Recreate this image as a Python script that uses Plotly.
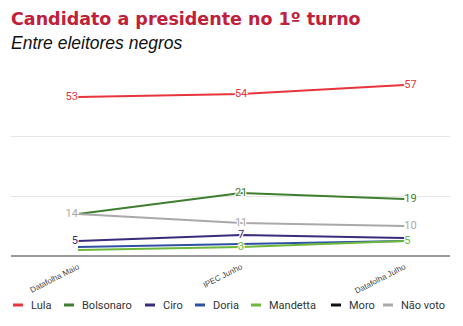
import plotly.graph_objects as go

categories = ["Datafolha Maio", "IPEC Junho", "Datafolha Julho"]
series_names = ["Lula", "Bolsonaro", "Ciro", "Doria", "Mandetta", "Moro", "Não voto"]
lula = [53, 54, 57]
bolsonaro = [14, 21, 19]
ciro = [5, 7, 6]
doria = [3, 4, 5]
mandetta = [2, 3, 5]
moro = [None, None, None]
nao_voto = [14, 11, 10]
values = [lula, bolsonaro, ciro, doria, mandetta, moro, nao_voto]
# which point labels are visible in the reference
show_labels = [
    [True, True, True],
    [False, True, True],
    [True, True, False],
    [False, False, False],
    [False, True, True],
    [False, False, False],
    [True, True, True],
]
colors = ["#e8343c", "#3f7e2e", "#3b2b7c", "#2f50a3", "#6cb83b", "#111111", "#a9a9a9"]

fig = go.Figure()
halo = "-1px -1px 0 #fff, 1px -1px 0 #fff, -1px 1px 0 #fff, 1px 1px 0 #fff"
for name, vals, col, sl in zip(series_names, values, colors, show_labels):
    txt = [str(v) if (s and v is not None) else "" for v, s in zip(vals, sl)]
    fig.add_trace(go.Scatter(
        x=categories, y=vals, name=name, mode="lines+text",
        line=dict(color=col, width=2),
        text=txt, textposition=["middle left", "middle center", "middle right"],
        textfont=dict(color=col, size=11, family="Roboto", shadow=halo),
        cliponaxis=False, showlegend=False, hoverinfo="skip",
    ))

# plot area in pixels: x 11..450, y 76..256
PL, PR, PT, PB = 11, 450, 76, 256
def px_x(p):
    return (p - PL) / (PR - PL)
def px_y(p):
    return (PB - p) / (PB - PT)

legend_x = [13, 64, 145, 195, 251, 331, 383]
shapes = []
annotations = []
for name, col, lx in zip(series_names, colors, legend_x):
    shapes.append(dict(type="line", xref="paper", yref="paper",
                       x0=px_x(lx), x1=px_x(lx + 10), y0=px_y(305), y1=px_y(305),
                       line=dict(color=col, width=3)))
    annotations.append(dict(text=name, xref="paper", yref="paper",
                            x=px_x(lx + 16), y=px_y(305), xanchor="left", yanchor="middle",
                            showarrow=False, font=dict(size=11, color="#333333", family="Roboto")))

annotations.append(dict(text="<b>Candidato a presidente no 1º turno</b>", xref="paper", yref="paper",
                        x=px_x(9), y=px_y(19), xanchor="left", yanchor="middle", showarrow=False,
                        font=dict(size=17.5, color="#c0203a", family="DejaVu Sans", weight=700)))
annotations.append(dict(text="Entre eleitores negros", xref="paper", yref="paper",
                        x=px_x(9), y=px_y(43), xanchor="left", yanchor="middle", showarrow=False,
                        font=dict(size=17.5, color="#111111", family="Liberation Sans", style="italic")))

fig.update_layout(
    width=463, height=326,
    margin=dict(l=PL, r=463 - PR, t=PT, b=326 - PB),
    paper_bgcolor="white", plot_bgcolor="white",
    shapes=shapes, annotations=annotations,
    xaxis=dict(range=[-0.41, 2.28], showgrid=False, zeroline=False, showline=False,
               tickangle=-27, tickfont=dict(size=8, color="#444444", family="Liberation Sans"),
               ticks="", ticklabelstandoff=4),
    yaxis=dict(range=[0, 60], dtick=20, showticklabels=False, showgrid=True,
               gridcolor="#e6e6e6", gridwidth=1, zeroline=True, zerolinecolor="#9a9a9a",
               zerolinewidth=2, showline=False),
    showlegend=False,
)

fig.write_html("out.html")
